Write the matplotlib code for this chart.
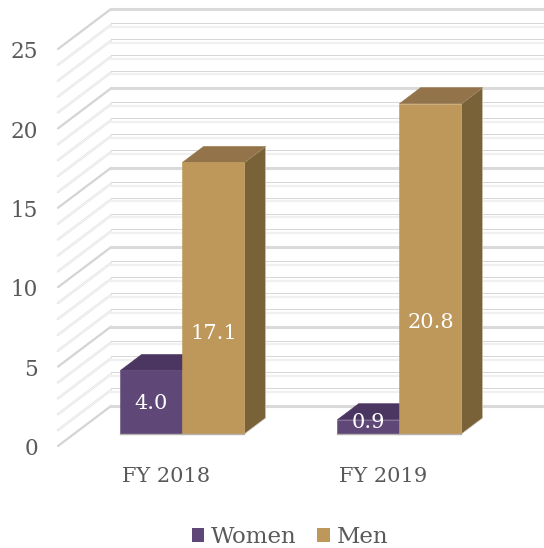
import matplotlib
matplotlib.use('Agg')
import matplotlib.pyplot as plt
from matplotlib.patches import Polygon, Patch

categories = ['FY 2018', 'FY 2019']
women = [4.0, 0.9]
men = [17.1, 20.8]
y_ticks = [0, 5, 10, 15, 20, 25]

# heights of the labels inside the bars (Excel does not centre the men ones)
women_label_y = [1.9, 0.75]
men_label_y = [6.35, 7.0]

PURPLE = ('#5f4878', '#4a3660', '#3f2e52')
TAN = ('#be975b', '#93744a', '#7a6238')

# pixel scale of the original chart
PX_X = 217.0
PX_Y = 15.88
X0 = 166.5
Y0 = 446.0
W, H = 544, 548

# depth shear: one full depth unit, in data units
DX = 53.0 / PX_X
DY = 40.0 / PX_Y
BAR_W = 62.0 / PX_X


def proj(x, y, d):
    return (x + DX * d, y + DY * d)


def draw_bar(ax, x_left, value, colors):
    d0, d1 = 0.3, 0.7
    x_right = x_left + BAR_W
    side = [proj(x_right, 0, d0), proj(x_right, 0, d1), proj(x_right, value, d1), proj(x_right, value, d0)]
    top = [proj(x_left, value, d0), proj(x_right, value, d0), proj(x_right, value, d1), proj(x_left, value, d1)]
    front = [proj(x_left, 0, d0), proj(x_right, 0, d0), proj(x_right, value, d0), proj(x_left, value, d0)]
    ax.add_patch(Polygon(side, fc=colors[2], ec='#cfc9bb', lw=0.5, zorder=3))
    ax.add_patch(Polygon(top, fc=colors[1], ec=colors[1], lw=0.4, zorder=3))
    ax.add_patch(Polygon(front, fc=colors[0], ec=colors[0], lw=0.4, zorder=3))
    # thin grey rim along the foot of the bar
    ax.plot([front[0][0], front[1][0]], [front[0][1], front[1][1]], color='#b5b2ad', lw=1.0, zorder=4)


plt.rcParams['font.family'] = ['DejaVu Serif']
fig = plt.figure(figsize=(W / 100, H / 100), dpi=100)
ax = fig.add_axes([0, 0, 1, 1])
ax.set_xlim(-X0 / PX_X, (W - X0) / PX_X)
ax.set_ylim((Y0 - H) / PX_Y, Y0 / PX_Y)
ax.axis('off')

# wall gridlines, one per unit with the fives heavier
x_wall = -X0 / PX_X + 58.0 / PX_X
x_end = 3.0
for v in range(0, 26):
    major = v % 5 == 0
    a = proj(x_wall, v, 0)
    b = proj(x_wall, v, 1)
    if major:
        ax.plot([a[0], b[0]], [a[1], b[1]], color='#d4d4d4', lw=1.6, zorder=1, solid_capstyle='round')
        ax.plot([b[0], x_end], [b[1], b[1]], color='#dadada', lw=2.2, zorder=1)
    else:
        ax.plot([a[0], b[0]], [a[1], b[1]], color='#e6e6e6', lw=1.8, zorder=1, solid_capstyle='round')
        ax.plot([a[0], b[0]], [a[1], b[1]], color='white', lw=0.4, zorder=1)
        ax.plot([b[0], x_end], [b[1] - 0.12, b[1] - 0.12], color='#f0f0f0', lw=1.6, zorder=1)
        ax.plot([b[0], x_end], [b[1] + 0.12, b[1] + 0.12], color='#d6d6d6', lw=0.7, zorder=1)

for i in range(len(categories)):
    draw_bar(ax, i - BAR_W, women[i], PURPLE)
    draw_bar(ax, i, men[i], TAN)

    ax.text(proj(i - BAR_W / 2, 0, 0.3)[0], women_label_y[i] + DY * 0.3, f'{women[i]:.1f}',
            color='white', fontsize=15, ha='center', va='center', zorder=5)
    ax.text(proj(i + BAR_W / 2, 0, 0.3)[0], men_label_y[i] + DY * 0.3, f'{men[i]:.1f}',
            color='white', fontsize=15, ha='center', va='center', zorder=5)
    ax.text(i, -1.95, categories[i], color='#595959', fontsize=15, ha='center', va='center')

for v in y_ticks:
    ax.text(x_wall - 20.0 / PX_X, v - 0.2, str(v), color='#595959', fontsize=15.5, ha='right', va='center')

handles = [Patch(fc=PURPLE[0], label='Women'), Patch(fc=TAN[0], label='Men')]
ax.legend(handles=handles, loc='center', bbox_to_anchor=(290 / W, 1 - 537 / H), ncol=2, frameon=False,
          fontsize=16.5, labelcolor='#595959', handlelength=0.55, handleheight=0.55,
          handletextpad=0.3, columnspacing=0.9)

fig.savefig('out.png', dpi=100)
